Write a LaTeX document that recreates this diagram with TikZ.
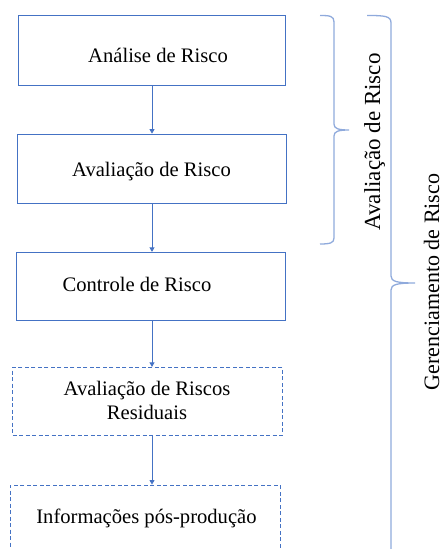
\documentclass[tikz,border=0pt]{standalone}
\usepackage{fontspec}
\setmainfont{Liberation Serif}
\usetikzlibrary{arrows.meta}
\definecolor{boxblue}{HTML}{4472C4}
\definecolor{braceblue}{HTML}{8FAADC}
\tikzset{
  stepbox/.style={draw=boxblue, line width=0.9pt, rectangle, inner sep=0pt},
  dashbox/.style={stepbox, dash pattern=on 4pt off 2.5pt},
  lbl/.style={anchor=base, inner sep=0pt, font=\fontsize{20.6}{24}\selectfont, text=black},
  rlbl/.style={anchor=base, inner sep=0pt, rotate=90, text=black},
  arr/.style={draw=boxblue, line width=0.8pt, -{Triangle[length=4.5pt,width=5pt]}},
  brace/.style={draw=braceblue, line width=1.3pt}
}
\begin{document}
\begin{tikzpicture}[x=1pt,y=-1pt]
\useasboundingbox (0,0) rectangle (444,549);
\clip (0,0) rectangle (444,549);
% boxes
\node[stepbox, minimum width=267.4pt, minimum height=69.6pt] (b1) at (152,50.5) {};
\node[stepbox, minimum width=269.4pt, minimum height=69.3pt] (b2) at (152,168.7) {};
\node[stepbox, minimum width=269.7pt, minimum height=68.4pt] (b3) at (150.9,286.5) {};
\node[dashbox, minimum width=270pt, minimum height=67.7pt] (b4) at (147.7,401.2) {};
\node[dashbox, minimum width=270pt, minimum height=72pt] (b5) at (145,521) {};
% texts
\node[lbl] (t1) at (158,62) {Análise de Risco};
\node[lbl] (t2) at (151.5,176) {Avaliação de Risco};
\node[lbl] (t3) at (137,291) {Controle de Risco};
\node[lbl, align=center] (t4) at (147,419) {Avaliação de Riscos\\Residuais};
\node[lbl] (t5) at (146.5,523.5) {Informações pós-produção};
% arrows
\coordinate (ax) at (152,0);
\draw[arr] (b1.south -| ax) -- (b2.north -| ax);
\draw[arr] (b2.south -| ax) -- (b3.north -| ax);
\draw[arr] (b3.south -| ax) -- (b4.north -| ax);
\draw[arr] (b4.south -| ax) -- (b5.north -| ax);
% small brace
\draw[brace] (320,15.5) .. controls (330,15.5) and (334,16) .. (334,22)
  -- (334,124) .. controls (334,128.5) and (338,130) .. (349,130)
  .. controls (338,130) and (334,131.5) .. (334,136)
  -- (334,238) .. controls (334,243) and (330,244) .. (320,244);
% big brace
\draw[brace] (367,15.5) .. controls (385,15.5) and (391,16) .. (391,23)
  -- (391,276) .. controls (391,281.5) and (397,283) .. (415,283)
  .. controls (397,283) and (391,284.5) .. (391,290)
  -- (391,560);
% rotated labels
\node[rlbl, font=\fontsize{23}{27}\selectfont] (r1) at (380,142) {Avaliação de Risco};
\node[rlbl, font=\fontsize{22}{26}\selectfont] (r2) at (439,282) {Gerenciamento de Risco};
\end{tikzpicture}
\end{document}
